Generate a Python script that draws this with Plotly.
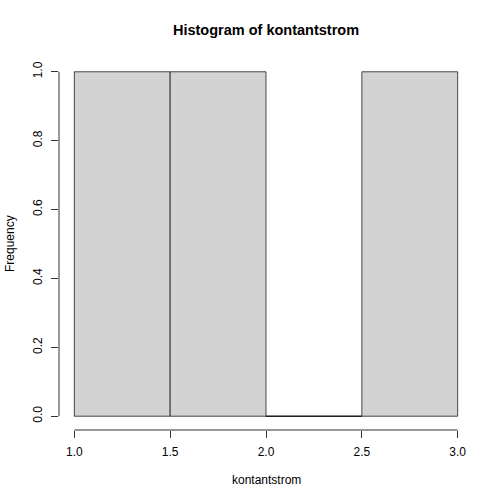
import plotly.graph_objects as go

# hist(kontantstrom) -> breaks and counts
breaks = [1.0, 1.5, 2.0, 2.5, 3.0]
counts = [1, 1, 0, 1]
x_ticks = [1.0, 1.5, 2.0, 2.5, 3.0]
y_ticks = [0.0, 0.2, 0.4, 0.6, 0.8, 1.0]

mids = [(a + b) / 2 for a, b in zip(breaks[:-1], breaks[1:])]
widths = [b - a for a, b in zip(breaks[:-1], breaks[1:])]

font = "Liberation Sans, Arial, Helvetica, sans-serif"

fig = go.Figure(go.Bar(
    x=mids, y=counts, width=widths,
    marker=dict(color="#d3d3d3", line=dict(color="black", width=0.7)),
    hoverinfo="skip",
))

# R pads each axis range by 4%
xpad = (breaks[-1] - breaks[0]) * 0.04
ypad = (max(counts) - 0) * 0.04

fig.update_layout(
    width=504, height=504,
    margin=dict(l=59, r=31, t=58, b=74),
    paper_bgcolor="white", plot_bgcolor="white",
    showlegend=False,
    font=dict(family=font, size=12, color="black"),
    title=dict(text="<b>Histogram of kontantstrom</b>", x=0.5, xref="paper",
               y=1 - 30 / 504, yanchor="middle", xanchor="center",
               font=dict(size=14.5, family=font, color="black")),
    xaxis=dict(range=[breaks[0] - xpad, breaks[-1] + xpad], tickvals=x_ticks,
               tickformat=".1f", ticks="outside", ticklen=7, tickcolor="#333",
               showgrid=False, zeroline=False, showline=False,
               ticklabelstandoff=4),
    yaxis=dict(range=[-ypad, max(counts) + ypad], tickvals=y_ticks,
               tickformat=".1f", ticks="outside", ticklen=7, tickcolor="#333",
               tickangle=-90, showgrid=False, zeroline=False, showline=False,
               ticklabelstandoff=4),
    shapes=[
        dict(type="line", xref="x", yref="paper", x0=x_ticks[0], x1=x_ticks[-1],
             y0=0, y1=0, line=dict(color="#333", width=1)),
        dict(type="line", xref="paper", yref="y", x0=0, x1=0,
             y0=y_ticks[0], y1=y_ticks[-1], line=dict(color="#333", width=1)),
        # zero-height bin still drawn as a line by R
        dict(type="line", xref="x", yref="y", x0=breaks[2], x1=breaks[3],
             y0=0, y1=0, line=dict(color="black", width=0.7)),
    ],
    annotations=[
        dict(text="kontantstrom", xref="paper", yref="paper", x=0.5, y=0,
             yshift=-50, showarrow=False, yanchor="middle",
             font=dict(size=12, family=font)),
        dict(text="Frequency", xref="paper", yref="paper", x=0, y=0.5,
             xshift=-49, textangle=-90, showarrow=False, xanchor="center",
             font=dict(size=12, family=font)),
    ],
)

# drop the page's default body margin so the figure sits at the window corner
fig.write_html("out.html", config={"displayModeBar": False},
               post_script="document.body.style.margin='0px';")
